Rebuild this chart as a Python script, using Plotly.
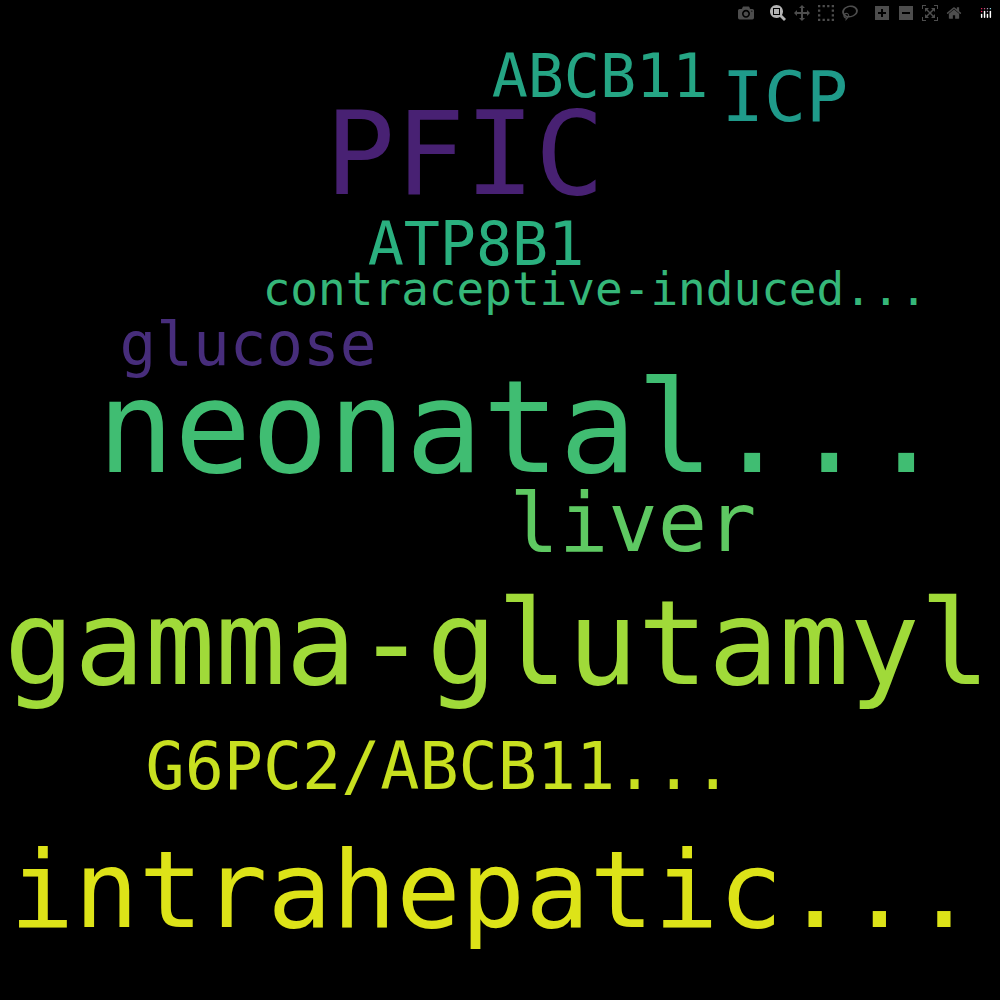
import plotly.graph_objects as go

words = ["PFIC", "ABCB11", "ICP", "ATP8B1", "contraceptive-induced...", "glucose",
         "neonatal...", "liver", "gamma-glutamyl", "G6PC2/ABCB11...", "intrahepatic..."]
x_pos = [465, 600, 785, 476, 595, 248, 521, 633, 497, 439, 493]
y_pos = [165, 82, 103, 250, 293, 350, 440, 530, 655, 773, 900]
sizes = [116, 60, 70, 60, 46, 61, 128, 82, 117, 65, 107]
colors = ["#482173", "#25a584", "#1f9a8a", "#2ab07f", "#35b779", "#472d7b",
          "#40bd72", "#5ec962", "#a0da39", "#c8e020", "#dde318"]

fig = go.Figure()
for w, x, y, s, c in zip(words, x_pos, y_pos, sizes, colors):
    fig.add_trace(go.Scatter(
        x=[x], y=[y], mode="text", text=[w],
        textposition="middle center",
        textfont=dict(family="DejaVu Sans Mono", size=s, color=c),
        hoverinfo="skip", showlegend=False,
    ))

fig.update_layout(
    width=1000, height=1000,
    margin=dict(l=0, r=0, t=0, b=0),
    paper_bgcolor="black", plot_bgcolor="black",
    xaxis=dict(range=[0, 1000], visible=False),
    yaxis=dict(range=[1000, 0], visible=False),
)

fig.write_html("out.html", post_script=(
    "document.body.style.margin='0';document.body.style.overflow='hidden';"
    "document.body.style.background='black';"))
